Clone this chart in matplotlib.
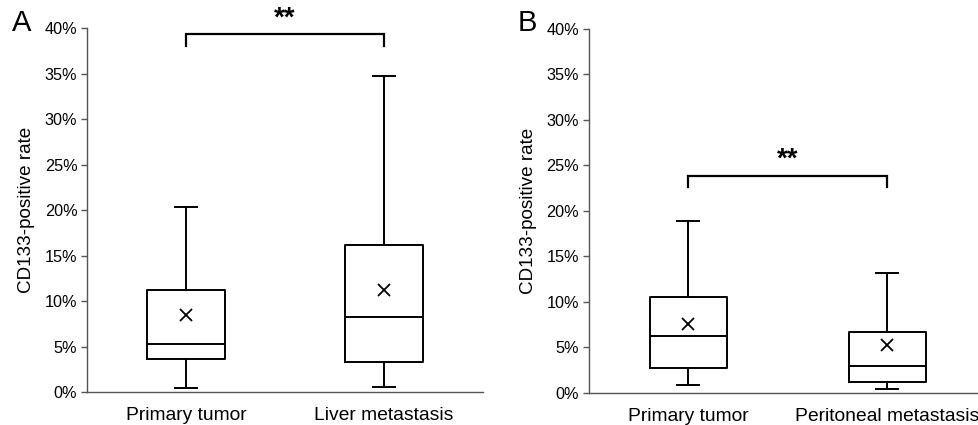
import matplotlib
matplotlib.use("Agg")
import matplotlib.pyplot as plt
from matplotlib.ticker import FuncFormatter

plt.rcParams['font.family'] = ['Liberation Sans', 'DejaVu Sans']

# Panel A data (percent)
cats_a = ["Primary tumor", "Liver metastasis"]
whislo_a = [0.4, 0.5]
q1_a = [3.6, 3.26]
med_a = [5.27, 8.2]
q3_a = [11.2, 16.15]
whishi_a = [20.36, 34.7]
mean_a = [8.5, 11.2]

# Panel B data (percent)
cats_b = ["Primary tumor", "Peritoneal metastasis"]
whislo_b = [0.88, 0.37]
q1_b = [2.7, 1.18]
med_b = [6.26, 2.97]
q3_b = [10.5, 6.67]
whishi_b = [18.9, 13.2]
mean_b = [7.55, 5.24]

yticks = [0, 5, 10, 15, 20, 25, 30, 35, 40]
sig_a = "**"
sig_b = "**"
bracket_a = 39.3
bracket_b = 23.85

fig = plt.figure(figsize=(9.79, 4.25), dpi=100)
ax_a = fig.add_axes([0.0889, 0.0776, 0.4045, 0.8565])
ax_b = fig.add_axes([0.6016, 0.0760, 0.4064, 0.8565])

def draw(ax, cats, wl, q1, med, q3, wh, mean, sig, by):
    stats = []
    for i in range(len(cats)):
        stats.append(dict(whislo=wl[i], q1=q1[i], med=med[i], q3=q3[i],
                          whishi=wh[i], mean=mean[i], fliers=[], label=cats[i]))
    lw = 1.4
    ax.bxp(stats, positions=[1, 2], widths=0.39, showmeans=True,
           showfliers=False, patch_artist=False,
           boxprops=dict(color='black', linewidth=lw),
           medianprops=dict(color='black', linewidth=lw),
           whiskerprops=dict(color='black', linewidth=lw),
           capprops=dict(color='black', linewidth=lw),
           meanprops=dict(marker='x', markeredgecolor='black', markersize=8,
                          markeredgewidth=1.3),
           capwidths=0.11)
    ax.set_xlim(0.5, 2.5)
    ax.set_ylim(0, 40)
    ax.set_yticks(yticks)
    ax.yaxis.set_major_formatter(FuncFormatter(lambda v, p: f"{int(v)}%"))
    ax.tick_params(axis='y', direction='out', length=4, width=1, color='#555555',
                   labelsize=11.7, pad=3)
    ax.tick_params(axis='x', length=0, labelsize=13.9, pad=11)
    ax.set_xticks([1, 2])
    ax.set_xticklabels(cats)
    for s in ['top', 'right']:
        ax.spines[s].set_visible(False)
    for s in ['left', 'bottom']:
        ax.spines[s].set_color('#555555')
        ax.spines[s].set_linewidth(1.0)
    ax.set_ylabel("CD133-positive rate", fontsize=13.6, labelpad=7)
    # significance bracket
    ax.plot([1, 1, 2, 2], [by - 1.25, by, by, by - 1.25], color='black',
            linewidth=1.6, clip_on=False, solid_joinstyle='miter')
    ax.text(1.5, by + 0.3, sig, ha='center', va='bottom', fontsize=20,
            fontweight='bold', clip_on=False)

draw(ax_a, cats_a, whislo_a, q1_a, med_a, q3_a, whishi_a, mean_a, sig_a, bracket_a)
draw(ax_b, cats_b, whislo_b, q1_b, med_b, q3_b, whishi_b, mean_b, sig_b, bracket_b)

fig.text(22 / 979, 1 - 23 / 425, "A", fontsize=21, ha='center', va='center')
fig.text(527 / 979, 1 - 23 / 425, "B", fontsize=21, ha='center', va='center')

fig.savefig("out.png", dpi=100)
